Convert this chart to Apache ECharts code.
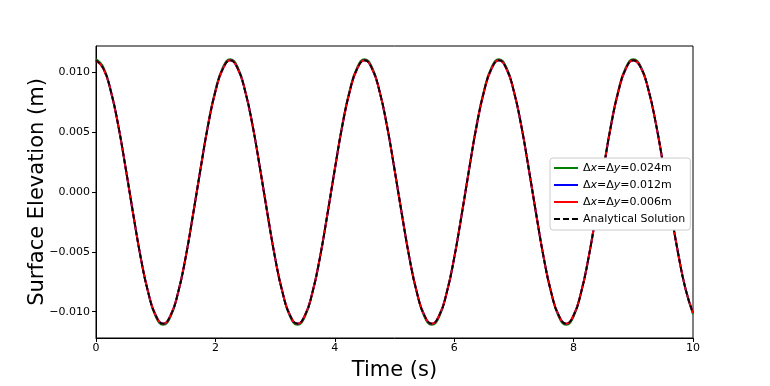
<!DOCTYPE html>
<html>
<head>
<meta charset="utf-8">
<script src="https://cdn.jsdelivr.net/npm/echarts@6/dist/echarts.min.js"></script>
<style>
  html, body { margin: 0; padding: 0; background: #fff; }
  #chart { width: 770px; height: 386px; }
</style>
</head>
<body>
<div id="chart"></div>
<script>
// time samples (s)
const times = [
  0, 0.125, 0.25, 0.375, 0.5, 0.625, 0.75, 0.875, 1, 1.125, 1.25, 1.375, 1.5, 1.625, 1.75, 1.875, 2, 2.125,
  2.25, 2.375, 2.5, 2.625, 2.75, 2.875, 3, 3.125, 3.25, 3.375, 3.5, 3.625, 3.75, 3.875, 4, 4.125, 4.25, 4.375,
  4.5, 4.625, 4.75, 4.875, 5, 5.125, 5.25, 5.375, 5.5, 5.625, 5.75, 5.875, 6, 6.125, 6.25, 6.375, 6.5, 6.625,
  6.75, 6.875, 7, 7.125, 7.25, 7.375, 7.5, 7.625, 7.75, 7.875, 8, 8.125, 8.25, 8.375, 8.5, 8.625, 8.75, 8.875,
  9, 9.125, 9.25, 9.375, 9.5, 9.625, 9.75, 9.875, 10
]

// surface elevation (m)
const analytical = [
  0.0110, 0.0103, 0.0084, 0.0055, 0.0019, -0.0019, -0.0055, -0.0084, -0.0103, -0.0110, -0.0103, -0.0084, -0.0055, -0.0019, 0.0019, 0.0055, 0.0084, 0.0103,
  0.0110, 0.0103, 0.0084, 0.0055, 0.0019, -0.0019, -0.0055, -0.0084, -0.0103, -0.0110, -0.0103, -0.0084, -0.0055, -0.0019, 0.0019, 0.0055, 0.0084, 0.0103,
  0.0110, 0.0103, 0.0084, 0.0055, 0.0019, -0.0019, -0.0055, -0.0084, -0.0103, -0.0110, -0.0103, -0.0084, -0.0055, -0.0019, 0.0019, 0.0055, 0.0084, 0.0103,
  0.0110, 0.0103, 0.0084, 0.0055, 0.0019, -0.0019, -0.0055, -0.0084, -0.0103, -0.0110, -0.0103, -0.0084, -0.0055, -0.0019, 0.0019, 0.0055, 0.0084, 0.0103,
  0.0110, 0.0104, 0.0086, 0.0058, 0.0023, -0.0015, -0.0051, -0.0081, -0.0101, -0.0110, -0.0106
]
const dx024 = [
  0.0111, 0.0104, 0.0084, 0.0055, 0.0019, -0.0019, -0.0055, -0.0084, -0.0104, -0.0111, -0.0104, -0.0084, -0.0055, -0.0019, 0.0019, 0.0056, 0.0085, 0.0104,
  0.0111, 0.0104, 0.0084, 0.0055, 0.0019, -0.0019, -0.0055, -0.0084, -0.0104, -0.0111, -0.0104, -0.0084, -0.0055, -0.0019, 0.0019, 0.0056, 0.0085, 0.0104,
  0.0111, 0.0104, 0.0084, 0.0055, 0.0019, -0.0019, -0.0055, -0.0084, -0.0104, -0.0111, -0.0104, -0.0084, -0.0055, -0.0019, 0.0019, 0.0056, 0.0085, 0.0104,
  0.0111, 0.0104, 0.0084, 0.0055, 0.0019, -0.0019, -0.0055, -0.0084, -0.0104, -0.0111, -0.0104, -0.0084, -0.0055, -0.0019, 0.0019, 0.0056, 0.0085, 0.0104,
  0.0111, 0.0105, 0.0086, 0.0058, 0.0023, -0.0015, -0.0051, -0.0081, -0.0102, -0.0111, -0.0106
]
const dx012 = analytical
const dx006 = analytical

const yTicks = [-0.01, -0.005, 0, 0.005, 0.01]
const seriesNames = ['dx024', 'dx012', 'dx006', 'Analytical Solution']

const pairs = (ys) => times.map((t, i) => [t, ys[i]])
const font = 'DejaVu Sans'
const solidIcon = 'path://M0,0h24v2h-24z'
const dashIcon = 'path://M0,0h6v2h-6z M9,0h6v2h-6z M18,0h6v2h-6z'

const chart = echarts.init(document.getElementById('chart'))
chart.setOption({
  animation: false,
  grid: {
    left: 96, right: 77, top: 46, bottom: 43,
    show: true, borderColor: '#000', borderWidth: 1
  },
  legend: {
    orient: 'vertical',
    left: 550, top: 158,
    data: [
      { name: seriesNames[0], icon: solidIcon },
      { name: seriesNames[1], icon: solidIcon },
      { name: seriesNames[2], icon: solidIcon },
      { name: seriesNames[3], icon: dashIcon }
    ],
    itemWidth: 24, itemHeight: 2, itemGap: 5,
    padding: [4, 5, 5, 4],
    backgroundColor: '#fff',
    borderColor: '#ccc', borderWidth: 1, borderRadius: 3,
    formatter: function (name) {
      if (name === 'dx024') return '{n|Δ}{i|x}{n|=Δ}{i|y}{n|=0.024m}'
      if (name === 'dx012') return '{n|Δ}{i|x}{n|=Δ}{i|y}{n|=0.012m}'
      if (name === 'dx006') return '{n|Δ}{i|x}{n|=Δ}{i|y}{n|=0.006m}'
      return '{n|' + name + '}'
    },
    textStyle: {
      fontFamily: font, fontSize: 11, color: '#000', lineHeight: 12,
      rich: {
        n: { fontFamily: font, fontSize: 11, color: '#000', lineHeight: 12 },
        i: { fontFamily: font, fontSize: 11, color: '#000', fontStyle: 'italic', lineHeight: 12 }
      }
    }
  },
  xAxis: {
    type: 'value', min: 0, max: 10, interval: 2,
    name: 'Time (s)', nameLocation: 'middle', nameGap: 22, nameMoveOverlap: false,
    nameTextStyle: { fontFamily: font, fontSize: 21, color: '#000' },
    axisLine: { show: true, onZero: false, lineStyle: { color: '#000', width: 1 } },
    axisTick: { show: true, length: 4, lineStyle: { color: '#000' } },
    axisLabel: { fontFamily: font, fontSize: 11, color: '#000', margin: 5 },
    splitLine: { show: false }
  },
  yAxis: {
    type: 'value', min: -0.0122, max: 0.0122,
    name: 'Surface Elevation (m)', nameLocation: 'middle', nameGap: 48, nameMoveOverlap: false,
    nameTextStyle: { fontFamily: font, fontSize: 21, color: '#000' },
    axisLine: { show: true, onZero: false, lineStyle: { color: '#000', width: 1 } },
    axisTick: { show: true, length: 4, customValues: yTicks, lineStyle: { color: '#000' } },
    axisLabel: {
      fontFamily: font, fontSize: 11, color: '#000', margin: 6,
      customValues: yTicks,
      formatter: (v) => (v < 0 ? '\u2212' : '') + Math.abs(v).toFixed(3)
    },
    splitLine: { show: false }
  },
  series: [
    {
      name: 'dx024', type: 'line', data: pairs(dx024), smooth: true, symbol: 'none',
      lineStyle: { color: '#008000', width: 2 }, itemStyle: { color: '#008000' }
    },
    {
      name: 'dx012', type: 'line', data: pairs(dx012), smooth: true, symbol: 'none',
      lineStyle: { color: '#0000ff', width: 2 }, itemStyle: { color: '#0000ff' }
    },
    {
      name: 'dx006', type: 'line', data: pairs(dx006), smooth: true, symbol: 'none',
      lineStyle: { color: '#ff0000', width: 2 }, itemStyle: { color: '#ff0000' }
    },
    {
      name: 'Analytical Solution', type: 'line', data: pairs(analytical), smooth: true, symbol: 'none',
      lineStyle: { color: '#000', width: 1.6, type: [5, 3] }, itemStyle: { color: '#000' }
    }
  ]
})
</script>
</body>
</html>
